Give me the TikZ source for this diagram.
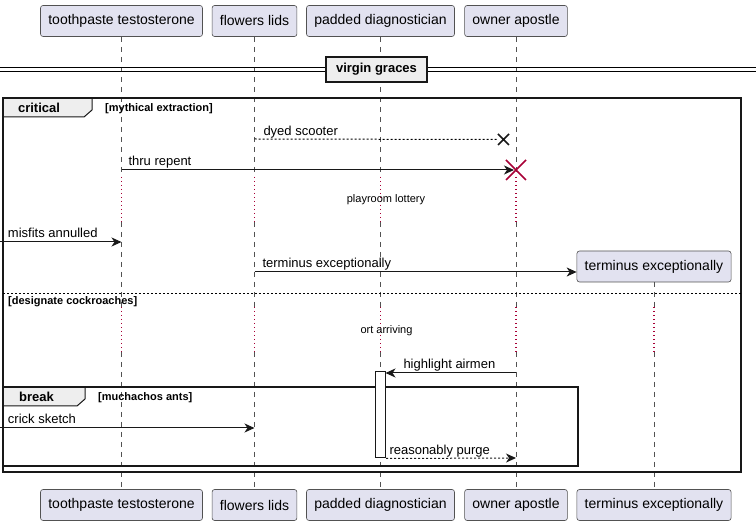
\documentclass[tikz,border=0pt]{standalone}
\usepackage{fontspec}
\setmainfont{Liberation Sans}
\usetikzlibrary{arrows.meta,shapes.misc}
\definecolor{partfill}{HTML}{E2E2F0}
\definecolor{partline}{HTML}{181818}
\definecolor{tabfill}{HTML}{EEEEEE}
\definecolor{delayred}{HTML}{A80036}

\begin{document}
\begin{tikzpicture}[x=1pt, y=-1pt,
    participant/.style ={rectangle, rounded corners=2.5pt, draw=partline!75, line width=0.6pt, fill=partfill, minimum height=31pt, inner xsep=7.8pt, font=\fontsize{14}{16}\selectfont},
    lifeline/.style ={draw=partline!75, line width=0.6pt, dash pattern=on 5pt off 5pt},
    delayline/.style ={draw=delayred, line width=1.3pt, dash pattern=on 1.3pt off 2.7pt},
    message/.style ={draw=partline, line width=1pt, -{Stealth[length=10pt, width=9pt, inset=3pt]}},
    reply/.style ={message, dash pattern=on 2pt off 2pt},
    lbl/.style ={font=\fontsize{13}{15}\selectfont, inner sep=0pt, anchor=base west},
    delaytext/.style ={font=\fontsize{11}{13}\selectfont, inner sep=0pt},
    guard/.style ={font=\fontsize{11}{13}\selectfont\bfseries, inner sep=0pt, anchor=base west},
    tablbl/.style ={font=\fontsize{13}{15}\selectfont\bfseries, inner sep=0pt},
    frame/.style ={draw=partline, line width=1.5pt},
    tabedge/.style ={draw=partline, line width=1pt},
    activation/.style ={rectangle, draw=partline, line width=1pt, fill=white, inner sep=0pt, minimum width=10pt, minimum height=86pt}]
   \useasboundingbox (0,0) rectangle (756,526);

   \node[participant] (tt) at (121.5,21) {toothpaste testosterone};
   \node[participant] (fl) at (254.5,21) {flowers lids};
   \node[participant] (pd) at (380.5,21) {padded diagnostician};
   \node[participant] (oa) at (516,21) {owner apostle};
   \node[participant] (ttb) at (121.5,505) {toothpaste testosterone};
   \node[participant] (flb) at (254.5,505) {flowers lids};
   \node[participant] (pdb) at (380.5,505) {padded diagnostician};
   \node[participant] (oab) at (516,505) {owner apostle};
   \node[participant] (teb) at (654,505) {terminus exceptionally};

   \draw[lifeline] (tt.south) -- (121.5,177);
   \draw[delayline] (121.5,177) -- (121.5,222);
   \draw[lifeline] (121.5,222) -- (121.5,307);
   \draw[delayline] (121.5,307) -- (121.5,352);
   \draw[lifeline] (121.5,352) -- (ttb.north);
   \draw[lifeline] (fl.south) -- (254.5,177);
   \draw[delayline] (254.5,177) -- (254.5,222);
   \draw[lifeline] (254.5,222) -- (254.5,307);
   \draw[delayline] (254.5,307) -- (254.5,352);
   \draw[lifeline] (254.5,352) -- (flb.north);
   \draw[lifeline] (pd.south) -- (380.5,177);
   \draw[delayline] (380.5,177) -- (380.5,222);
   \draw[lifeline] (380.5,222) -- (380.5,307);
   \draw[delayline] (380.5,307) -- (380.5,352);
   \draw[lifeline] (380.5,352) -- (pdb.north);
   \draw[lifeline] (oa.south) -- (516,177);
   \draw[delayline] (516,177) -- (516,222);
   \draw[lifeline] (516,222) -- (516,307);
   \draw[delayline] (516,307) -- (516,352);
   \draw[lifeline] (516,352) -- (oab.north);
   \draw[lifeline] (654,282) -- (654,307);
   \draw[delayline] (654,307) -- (654,352);
   \draw[lifeline] (654,352) -- (teb.north);

   \draw[line width=1pt] (0,68) -- (756,68);
   \draw[line width=1pt] (0,72) -- (756,72);
   \node[tablbl, draw=partline, line width=1.5pt, fill=tabfill, minimum width=101pt, minimum height=25pt] (vg) at (376.5,69.5) {virgin graces};

   \fill[tabfill] (3,98) -- (92,98) -- (92,110) -- (84,117) -- (3,117) -- cycle;
   \draw[frame] (3,98) rectangle (741,472);
   \draw[tabedge] (92,98) -- (92,110) -- (84,117) -- (3,117);
   \node[tablbl] (crit) at (39,108) {critical};
   \node[guard] (g1) at (105,112) {[mythical extraction]};

   \draw[line width=0.7pt, dash pattern=on 2pt off 2pt] (3,293) -- (741,293);
   \node[guard] (g2) at (8,304.5) {[designate cockroaches]};

   \fill[tabfill] (3,387) -- (85,387) -- (85,399) -- (77,406) -- (3,406) -- cycle;
   \draw[frame] (3,387) rectangle (578,466);
   \draw[tabedge] (85,387) -- (85,399) -- (77,406) -- (3,406);
   \node[tablbl] (brk) at (36.5,397) {break};
   \node[guard] (g3) at (98,401) {[muchachos ants]};

   \node[cross out, draw=partline, line width=1.6pt, inner sep=0pt, outer sep=0pt, minimum size=11pt] (lx) at (503.5,139.5) {};
   \node[cross out, draw=delayred, line width=1.6pt, inner sep=0pt, outer sep=0pt, minimum size=20pt] (dx) at (516,170) {};
   \node[participant] (te) at (654,266.5) {terminus exceptionally};
   \node[activation] (act) at (380.5,415) {};

   \coordinate (ds1) at (254.5,139);
   \coordinate (tr1) at (121.5,170);
   \coordinate (ma1) at (0,242);
   \coordinate (ma2) at (121.5,242);
   \coordinate (te1) at (254.5,272);
   \coordinate (ha1) at (516,373);
   \coordinate (ha2) at (385.5,373);
   \coordinate (cs1) at (0,428);
   \coordinate (cs2) at (254.5,428);
   \coordinate (rp2) at (516,458);

   \draw[line width=1pt, dash pattern=on 2pt off 2pt] (ds1) -- node[lbl, at start, xshift=8.5pt, yshift=3.5pt] {dyed scooter} (lx.west);
   \draw[message, shorten >=2pt] (tr1) -- node[lbl, at start, xshift=6.5pt, yshift=4pt] {thru repent} (dx.center);
   \draw[message] (ma1) -- node[lbl, at start, xshift=7.5pt, yshift=4pt] {misfits annulled} (ma2);
   \draw[message] (te1) -- node[lbl, at start, xshift=7.5pt, yshift=4pt] {terminus exceptionally} (te.west |- te1);
   \draw[message] (ha1) -- node[lbl, at end, xshift=17.5pt, yshift=4pt] {highlight airmen} (ha2);
   \draw[message] (cs1) -- node[lbl, at start, xshift=7.5pt, yshift=4pt] {crick sketch} (cs2);
   \draw[reply] (act.south east) -- node[lbl, at start, xshift=3pt, yshift=4pt] {reasonably purge} (rp2);

   \node[delaytext] (pl) at (386,199.5) {playroom lottery};
   \node[delaytext] (oar) at (386.5,330.5) {ort arriving};
 \end{tikzpicture}
\end{document}
